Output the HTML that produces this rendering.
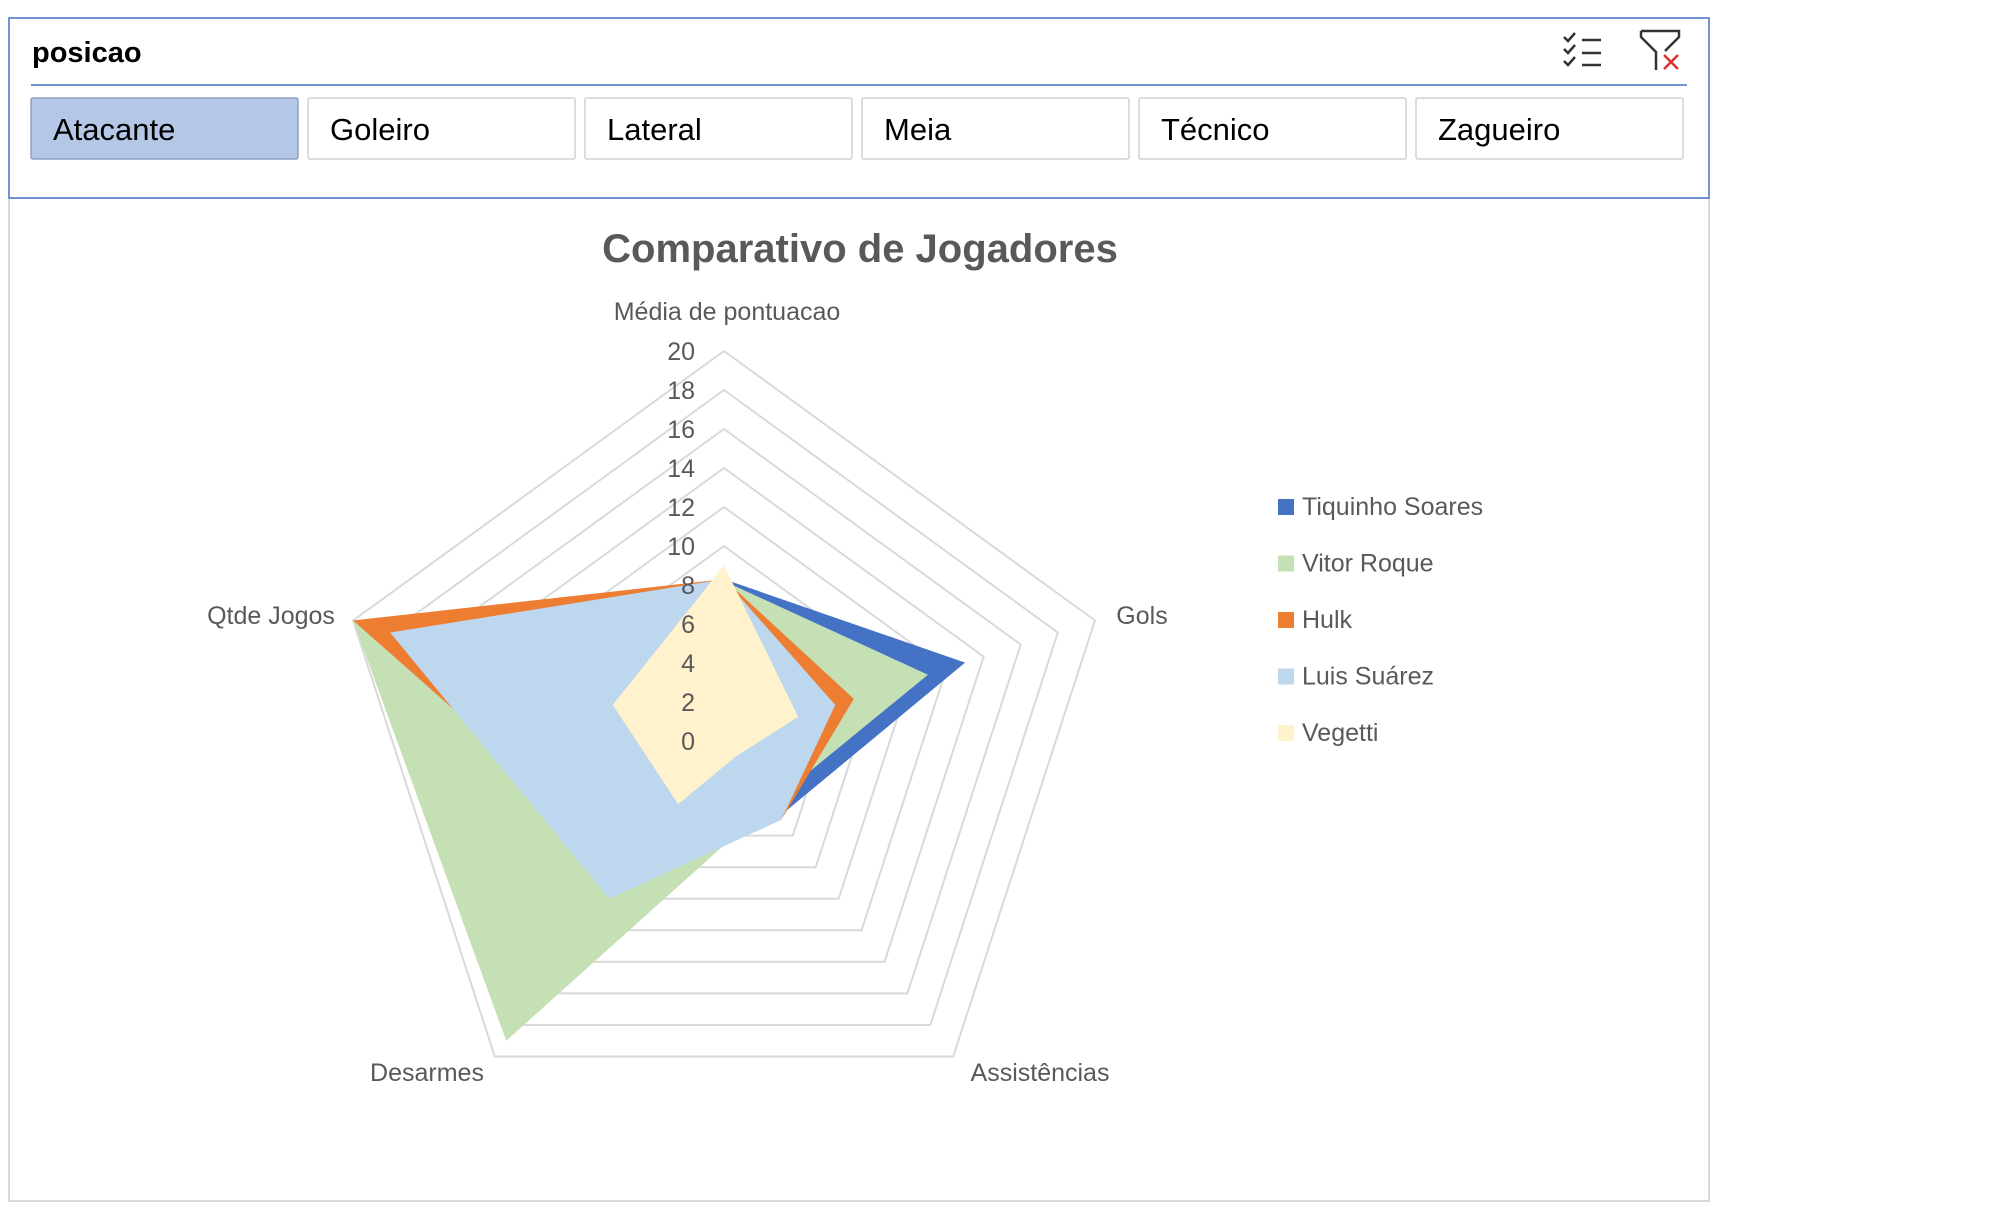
<!DOCTYPE html>
<html><head><meta charset="utf-8"><style>
html,body{margin:0;padding:0;background:#fff;}
svg{display:block;}
text{font-family:"Liberation Sans",sans-serif;}
</style></head><body>
<svg id="chart" width="2004" height="1207" viewBox="0 0 2004 1207" xmlns="http://www.w3.org/2000/svg">
<rect x="9" y="198" width="1700" height="1003" fill="#fff" stroke="#d9d9d9" stroke-width="2"/>
<rect x="9" y="18" width="1700" height="180" fill="#fff" stroke="#4472c4" stroke-width="1.5"/>
<text x="32" y="62" font-size="29" font-weight="bold" fill="#000">posicao</text>
<line x1="31" y1="85" x2="1687" y2="85" stroke="#4472c4" stroke-width="1.5"/>
<g stroke="#333" stroke-width="2.5" fill="none">
<path d="M1564 37 l4 4 l7 -8 M1564 49 l4 4 l7 -8 M1564 61 l4 4 l7 -8"/>
<path d="M1582 40 h19 M1582 53 h19 M1582 65 h19"/>
</g>
<g fill="none" stroke-width="2.5">
<path d="M1641 31 h38 v6 l-14 14 M1641 31 v6 l15 15 v18" stroke="#333"/>
<path d="M1664 55 l14 14 M1678 55 l-14 14" stroke="#e03030"/>
</g>
<g id="buttons"></g>
<text x="860" y="262" font-size="40" font-weight="bold" fill="#595959" text-anchor="middle">Comparativo de Jogadores</text>
<g id="grid"></g>
<g id="series"></g>
<g id="ticks"></g>
<g id="axislabels"></g>
<g id="legend"></g>
</svg>
<script>
const categories = ["Média de pontuacao","Gols","Assistências","Desarmes","Qtde Jogos"];
const seriesNames = ["Tiquinho Soares","Vitor Roque","Hulk","Luis Suárez","Vegetti"];
const tiquinho = [8.3, 13, 4.8, 7, 19];
const vitor = [8.2, 11, 4, 19, 20];
const hulk = [8.3, 7, 5, 8, 20];
const suarez = [8.3, 6, 5, 10, 18];
const vegetti = [9, 4, 1, 4, 6];
const tickLabels = ["0","2","4","6","8","10","12","14","16","18","20"];
const slicerItems = ["Atacante","Goleiro","Lateral","Meia","Técnico","Zagueiro"];

const NS="http://www.w3.org/2000/svg";
const colors=["#4472c4","#c5e0b4","#ed7d31","#bdd7ee","#fff2cc"];
const allSeries=[tiquinho,vitor,hulk,suarez,vegetti];
const cx=724, cy=741, R=390, maxV=20;
function mk(tag,attrs,parent){const e=document.createElementNS(NS,tag);for(const k in attrs)e.setAttribute(k,attrs[k]);parent.appendChild(e);return e;}
function ang(i){return -Math.PI/2+i*2*Math.PI/categories.length;}
function pt(i,v){const r=v/maxV*R;return [cx+r*Math.cos(ang(i)),cy+r*Math.sin(ang(i))];}

const bg=document.getElementById('buttons');
const bx0=31,bw=267,gap=10;
slicerItems.forEach((s,i)=>{
  const x=bx0+i*(bw+gap);
  const r=mk('rect',{x:x,y:98,width:bw,height:61,rx:2,fill:i===0?'#b4c7e7':'#fff',stroke:i===0?'#8ea0c0':'#d0d0d0','stroke-width':1.5},bg);
  
  
  const t=mk('text',{x:x+22,y:140,'font-size':31,fill:'#000'},bg);
  t.textContent=s;
  
  
});

const gg=document.getElementById('grid');
for(let k=1;k<tickLabels.length;k++){
  const v=+tickLabels[k];
  const pts=categories.map((c,i)=>pt(i,v).join(',')).join(' ');
  const p=mk('polygon',{points:pts,fill:'none',stroke:'#d9d9d9','stroke-width':2},gg);
  
  
}

const sg=document.getElementById('series');
allSeries.forEach((vals,s)=>{
  const pts=vals.map((v,i)=>pt(i,v).join(',')).join(' ');
  const p=mk('polygon',{points:pts,fill:colors[s],stroke:'none'},sg);
  
  
});

const tg=document.getElementById('ticks');
tickLabels.forEach(l=>{
  const y=cy-(+l)/maxV*R;
  const t=mk('text',{x:695,y:y+9,'font-size':25,fill:'#595959','text-anchor':'end'},tg);
  t.textContent=l;
  
  
});

const ag=document.getElementById('axislabels');
const lp=[[727,320,'middle'],[1142,624,'middle'],[1040,1081,'middle'],[427,1081,'middle'],[271,624,'middle']];
categories.forEach((c,i)=>{
  const t=mk('text',{x:lp[i][0],y:lp[i][1],'font-size':25,fill:'#595959','text-anchor':lp[i][2]},ag);
  t.textContent=c;
  
  
});

const lg=document.getElementById('legend');
seriesNames.forEach((n,i)=>{
  const y=499+i*56.5;
  const r=mk('rect',{x:1278,y:y,width:16,height:16,fill:colors[i]},lg);
  
  
  const t=mk('text',{x:1302,y:y+16,'font-size':25,fill:'#595959'},lg);
  t.textContent=n;
  
  
});
</script>
</body></html>
